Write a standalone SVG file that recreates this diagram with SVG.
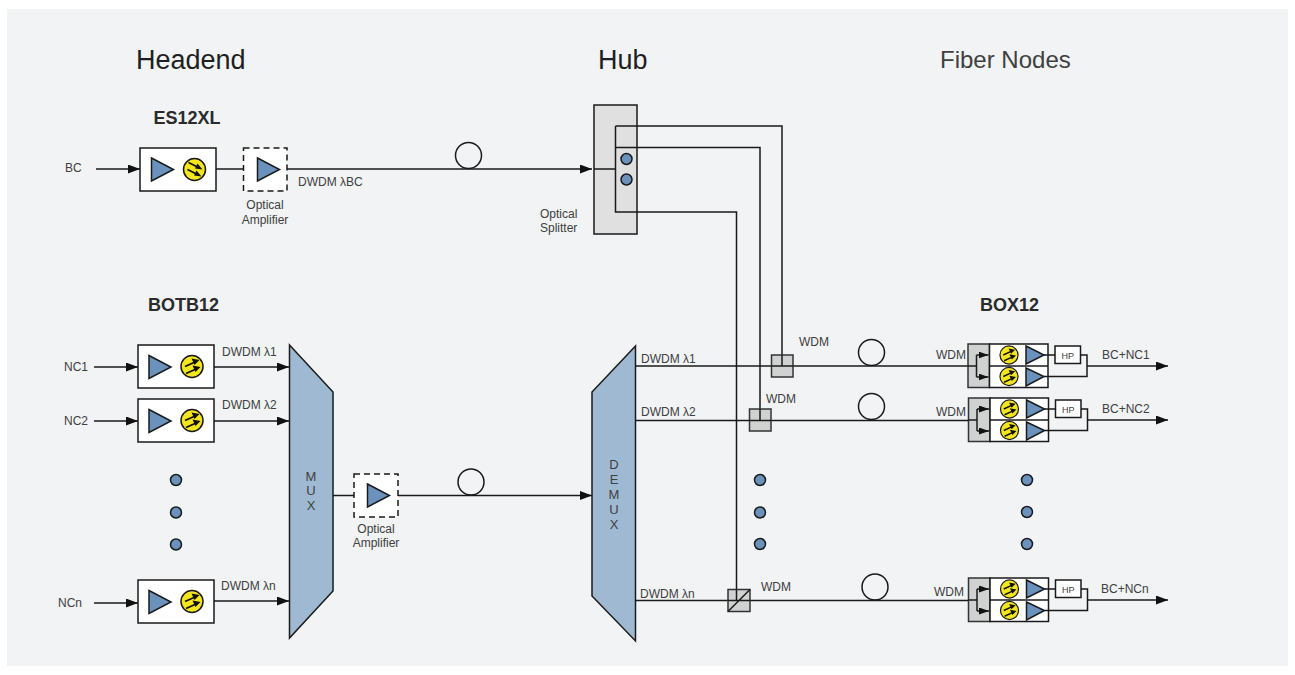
<svg xmlns="http://www.w3.org/2000/svg" xmlns:xlink="http://www.w3.org/1999/xlink" width="1295" height="675" viewBox="0 0 1295 675">
<style>
text{font-family:"Liberation Sans",Arial,sans-serif;fill:#404040;font-size:12px}
.h{font-size:27px;fill:#1f1f1f}
.hl{font-size:24px;fill:#404040}
.b{font-size:18px;font-weight:bold;fill:#2b2b2b}
.m{font-size:13px;text-anchor:middle}
.c{text-anchor:middle}
.ln{fill:none;stroke:#1a1a1a;stroke-width:1.5}
.arr{fill:none;stroke:#1a1a1a;stroke-width:1.5;marker-end:url(#ah)}
.box{fill:#fff;stroke:#1a1a1a;stroke-width:1.5}
.dash{fill:#fff;stroke:#1a1a1a;stroke-width:1.5;stroke-dasharray:6 4}
.tri{fill:#6a92bd;stroke:#1a1a1a;stroke-width:1.5}
.yel{fill:#f4e61e;stroke:#1a1a1a;stroke-width:1.5}
.mx{fill:#a0b9d3;stroke:#1a1a1a;stroke-width:1.5}
.wdm{fill:#d0d2d2;stroke:#333;stroke-width:1.5}
.fib{fill:none;stroke:#1a1a1a;stroke-width:1.5}
.dot{fill:#6a92bd;stroke:#1a1a1a;stroke-width:1.5}
</style>
<defs>
<marker id="ah" viewBox="0 0 12 9" refX="12" refY="4.500" markerWidth="12" markerHeight="9" markerUnits="userSpaceOnUse" orient="auto"><path d="M0 0L12 4.500L0 9Z" fill="#111"/></marker>
<marker id="as" viewBox="0 0 10 7" refX="10" refY="3.500" markerWidth="10" markerHeight="7" markerUnits="userSpaceOnUse" orient="auto"><path d="M0 0L10 3.500L0 7Z" fill="#111"/></marker>
<g id="tx">
<path class="tri" d="M0 -11.500L22 0L0 11.500Z"/>
</g>
<g id="eyeUp">
<circle class="yel" r="11"/>
<path d="M-7 0L2 -4M-6 7L3 3" fill="none" stroke="#111" stroke-width="1.700"/>
<path d="M7.500 -6.500L-0.500 -8L2.500 -1.500ZM8.500 0.500L0.500 -1L3.500 5.500Z" fill="#111"/>
</g>
<g id="eyeDown">
<circle class="yel" r="11"/>
<path d="M-6 -7L2 -3M-7 0L1 4" fill="none" stroke="#111" stroke-width="1.700"/>
<path d="M8 0L0.500 -1L3 -6ZM7 7L-0.500 6L2 1Z" fill="#111"/>
</g>
<g id="node">
<rect class="wdm" x="0" y="-22" width="21.500" height="43.500"/>
<rect class="box" x="21.500" y="-22" width="58.500" height="43.500"/>
<path class="ln" d="M21.500 0H80"/>
<path class="ln" d="M0 0H8.500"/>
<path class="ln" d="M8.500 -11V11"/>
<path d="M8.500 -11H20.500" class="ln" marker-end="url(#as)"/>
<path d="M8.500 11H20.500" class="ln" marker-end="url(#as)"/>
<g transform="translate(41,-11) scale(.82)"><use href="#eyeUp"/></g>
<g transform="translate(41,10.500) scale(.82)"><use href="#eyeUp"/></g>
<path class="tri" d="M58 -20L76 -11L58 -2Z"/>
<path class="tri" d="M58 2L76 10.500L58 20Z"/>
<rect class="box" x="87" y="-20" width="25.500" height="17.500"/>
<text x="99.700" y="-7.500" style="font-size:9px;text-anchor:middle">HP</text>
<path class="ln" d="M76 -11H87M112.500 -11H119V10.500H76"/>
</g>
</defs>
<rect width="1295" height="675" fill="#fff"/>
<rect x="7" y="9" width="1281" height="657" fill="#f1f3f5"/>

<g id="titles">
<text class="h" x="136" y="69">Headend</text>
<text class="h" x="598" y="69">Hub</text>
<text class="hl" x="940" y="68">Fiber Nodes</text>
<text class="b" x="153.500" y="124">ES12XL</text>
<text class="b" x="148" y="311">BOTB12</text>
<text class="b" x="980" y="311">BOX12</text>
</g>

<g id="connectors">
<path class="arr" d="M96 169H140"/>
<path class="ln" d="M216 169H244"/>
<path class="arr" d="M287 169H592"/>
<path class="ln" d="M594 169H615.500"/>
<path class="ln" d="M615.500 212V126H782V366"/>
<path class="ln" d="M615.500 147.500H760V420.500"/>
<path class="ln" d="M615.500 212H736.500V600"/>
<path class="arr" d="M94 367H138"/>
<path class="arr" d="M94 421H138"/>
<path class="arr" d="M94 603H138"/>
<path class="arr" d="M214 367H289"/>
<path class="arr" d="M214 421H289"/>
<path class="arr" d="M214 601H289"/>
<path class="ln" d="M333 495.500H354"/>
<path class="arr" d="M398 495.500H592"/>
<path class="ln" d="M635.500 366H968"/>
<path class="ln" d="M635.500 420.500H968"/>
<path class="ln" d="M635.500 600.500H968"/>
<path class="arr" d="M1087 366H1168"/>
<path class="arr" d="M1087 420H1168"/>
<path class="arr" d="M1087 600H1168"/>
</g>

<g id="es12xl"><rect class="box" x="140" y="148" width="76" height="43"/><use href="#tx" x="151.500" y="169.500"/><use href="#eyeDown" x="194.500" y="169.500"/></g>
<g id="amp1"><rect class="dash" x="243.500" y="148" width="43.500" height="43"/><use href="#tx" x="257.500" y="169.500"/></g>
<g id="splitter"><rect x="594" y="105" width="43" height="129" fill="#e0e0e0" stroke="#1a1a1a" stroke-width="1.500"/>
<path class="ln" d="M594 169H615.500M615.500 126H637M615.500 147.500H637M615.500 126V212H637"/>
<circle class="dot" cx="626.500" cy="159" r="5.500"/><circle class="dot" cx="626.500" cy="179.500" r="5.500"/></g>
<g id="otb1"><rect class="box" x="138" y="345" width="76" height="43"/><use href="#tx" x="149" y="367"/><use href="#eyeUp" x="192" y="366.500"/></g>
<g id="otb2"><rect class="box" x="138" y="399" width="76" height="43"/><use href="#tx" x="149" y="421"/><use href="#eyeUp" x="192" y="420.500"/></g>
<g id="otbn"><rect class="box" x="138" y="580" width="76" height="43"/><use href="#tx" x="149" y="602"/><use href="#eyeUp" x="192" y="601.500"/></g>
<g id="mux"><path class="mx" d="M289.500 345L333 392V591L289.500 638Z"/><text class="m" x="311" y="481">M</text><text class="m" x="311" y="495">U</text><text class="m" x="311" y="510">X</text></g>
<g id="amp2"><rect class="dash" x="354" y="474" width="44" height="43"/><use href="#tx" x="367.500" y="495.500"/></g>
<g id="demux"><path class="mx" d="M635.500 346L592 392V596L635.500 641Z"/><text class="m" x="614" y="469">D</text><text class="m" x="614" y="484">E</text><text class="m" x="614" y="499">M</text><text class="m" x="614" y="514">U</text><text class="m" x="614" y="529">X</text></g>
<g id="fibers"><circle class="fib" cx="468.500" cy="155.500" r="13"/><circle class="fib" cx="471" cy="482" r="13"/><circle class="fib" cx="871.500" cy="352.500" r="13"/><circle class="fib" cx="871.500" cy="406.500" r="13"/><circle class="fib" cx="875" cy="587" r="13"/></g>
<g id="wdm1"><rect class="wdm" x="771.500" y="355" width="21.500" height="22"/><path class="ln" d="M771.500 366H793M782 355V366"/></g>
<g id="wdm2"><rect class="wdm" x="749.500" y="409" width="21.500" height="22"/><path class="ln" d="M749.500 420.500H771M760 409V420.500"/></g>
<g id="wdmn"><rect class="wdm" x="728" y="589.500" width="22" height="22"/><path class="ln" d="M728 600.500H750M736.500 589.500V600M728 611.500L750 589.500"/></g>
<g id="dots1"><circle class="dot" cx="176" cy="480" r="5.500"/><circle class="dot" cx="176" cy="512.500" r="5.500"/><circle class="dot" cx="176" cy="544.500" r="5.500"/></g>
<g id="dots2"><circle class="dot" cx="760" cy="480" r="5.500"/><circle class="dot" cx="760" cy="512.500" r="5.500"/><circle class="dot" cx="760" cy="544" r="5.500"/></g>
<g id="dots3"><circle class="dot" cx="1027" cy="480" r="5.500"/><circle class="dot" cx="1027" cy="512" r="5.500"/><circle class="dot" cx="1027" cy="544" r="5.500"/></g>
<g id="box1"><use href="#node" x="968" y="366"/></g>
<g id="box2"><use href="#node" x="968.500" y="420"/></g>
<g id="boxn"><use href="#node" x="968.500" y="600"/></g>

<g id="labels">
<text x="65" y="172">BC</text>
<text x="64" y="371">NC1</text>
<text x="64" y="425">NC2</text>
<text x="58" y="607">NCn</text>
<text x="298" y="186">DWDM λBC</text>
<text class="c" x="265" y="209">Optical</text><text class="c" x="265" y="224">Amplifier</text>
<text class="c" x="376" y="533">Optical</text><text class="c" x="376" y="547">Amplifier</text>
<text x="540" y="218">Optical</text><text x="540" y="232">Splitter</text>
<text x="222" y="356">DWDM λ1</text>
<text x="222" y="409">DWDM λ2</text>
<text x="221" y="590">DWDM λn</text>
<text x="641" y="363">DWDM λ1</text>
<text x="641" y="416">DWDM λ2</text>
<text x="640" y="598">DWDM λn</text>
<text x="799" y="346">WDM</text>
<text x="766" y="403">WDM</text>
<text x="761" y="591">WDM</text>
<text x="936" y="359">WDM</text>
<text x="936" y="416">WDM</text>
<text x="934" y="596">WDM</text>
<text x="1102" y="359">BC+NC1</text>
<text x="1102" y="413">BC+NC2</text>
<text x="1101" y="593">BC+NCn</text>
</g>
</svg>
